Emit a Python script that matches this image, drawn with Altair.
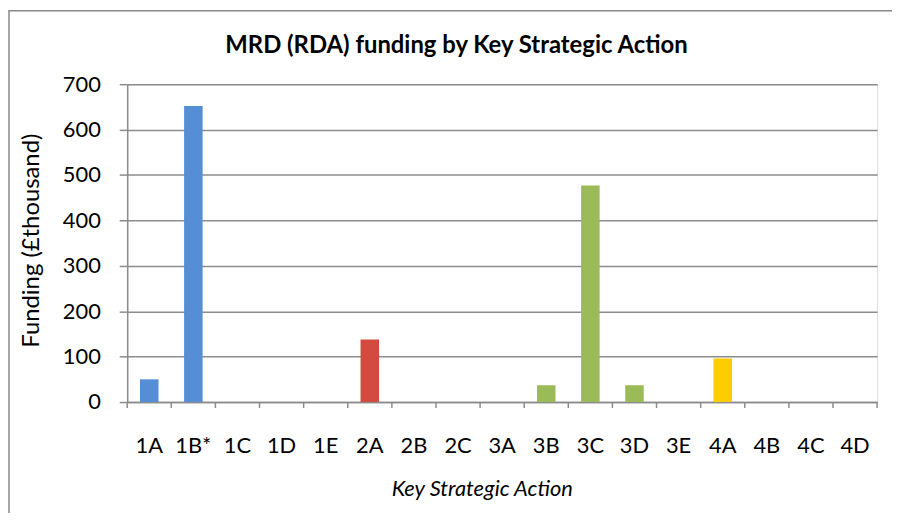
import altair as alt
import pandas as pd

categories = ["1A", "1B*", "1C", "1D", "1E", "2A", "2B", "2C", "3A",
              "3B", "3C", "3D", "3E", "4A", "4B", "4C", "4D"]
funding = [50, 652, 0, 0, 0, 138, 0, 0, 0, 37, 477, 37, 0, 96, 0, 0, 0]
groups = ["1", "2", "3", "4"]
group_colors = ["#558ED5", "#D24B3E", "#9BBB59", "#FFCC00"]
y_ticks = [0, 100, 200, 300, 400, 500, 600, 700]

df = pd.DataFrame({"cat": categories, "val": funding,
                   "grp": [c[0] for c in categories]})

W, H = 755, 320
FONT = "Lato"
GRID = "#8C8C8C"

xscale = alt.Scale(domain=categories, paddingInner=0, paddingOuter=0)

bars = alt.Chart(df).mark_bar(width=alt.RelativeBandSize(0.42)).encode(
    x=alt.X("cat:N", sort=categories, scale=xscale,
            axis=alt.Axis(title="Key Strategic Action", ticks=False,
                          labelAngle=0, labelFont=FONT, labelFontSize=22,
                          labelColor="#000", labelPadding=44,
                          labelBaseline="middle",
                          domainColor=GRID, domainWidth=1.5,
                          titleFont=FONT, titleFontSize=22,
                          titleFontStyle="italic", titleFontWeight="normal",
                          titleColor="#000", titleBaseline="middle",
                          titleAlign="center", titleX=357, titleY=87)),
    y=alt.Y("val:Q", scale=alt.Scale(domain=[0, 700], nice=False),
            axis=alt.Axis(title="Funding (£thousand)", values=y_ticks,
                          tickSize=8, tickColor=GRID, tickWidth=1.5,
                          grid=True, gridColor=GRID, gridWidth=1.5,
                          domainColor=GRID, domainWidth=1.5,
                          labelFont=FONT, labelFontSize=22,
                          labelColor="#000", labelPadding=19,
                          titleFont=FONT, titleFontSize=24,
                          titleFontWeight="normal", titleColor="#000",
                          titleAngle=-90, titleBaseline="middle",
                          titleAlign="center", titleX=-96, titleY=157)),
    color=alt.Color("grp:N", scale=alt.Scale(domain=groups, range=group_colors),
                    legend=None),
)

xticks = alt.Chart(df).mark_rule(color=GRID, strokeWidth=1.5).encode(
    x=alt.X("cat:N", sort=categories, scale=xscale, bandPosition=0),
    y=alt.value(H), y2=alt.value(H + 6),
)
last_tick = alt.Chart(df.tail(1)).mark_rule(color=GRID, strokeWidth=1.5).encode(
    x=alt.X("cat:N", sort=categories, scale=xscale, bandPosition=1),
    y=alt.value(H), y2=alt.value(H + 6),
)

frame = alt.Chart(df.head(1)).mark_rect(
    fill=None, stroke="#888888", strokeWidth=1.5, clip=False
).encode(
    x=alt.value(-119), x2=alt.value(800),
    y=alt.value(-74), y2=alt.value(460),
)

chart = alt.layer(frame, bars, xticks, last_tick).properties(
    width=W, height=H,
    title=alt.TitleParams(
        "MRD (RDA) funding by Key Strategic Action",
        font=FONT, fontSize=24, fontWeight="bold", color="#000",
        anchor="middle", frame="group", dx=-46, offset=0, dy=60,
        baseline="middle",
    ),
    autosize=alt.AutoSizeParams(type="none"),
    padding={"left": 120, "top": 75, "right": 15, "bottom": 110},
).configure_view(stroke=None).configure(background="white")

chart.save("out.html", embed_options={"renderer": "svg", "actions": False})
